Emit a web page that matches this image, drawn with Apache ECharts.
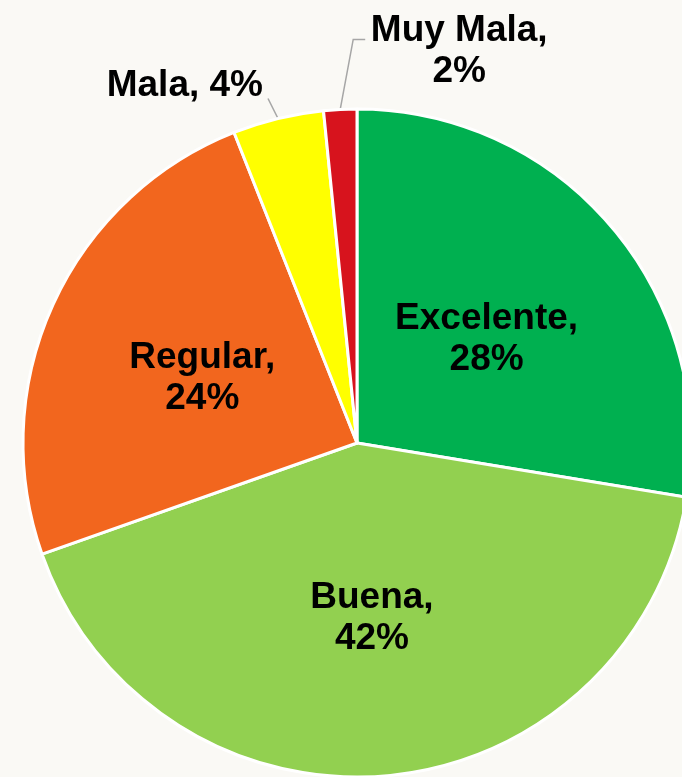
<!DOCTYPE html>
<html>
<head>
<meta charset="utf-8">
<script src="https://cdn.jsdelivr.net/npm/echarts@6/dist/echarts.min.js"></script>
<style>
  html, body { margin: 0; padding: 0; background: #faf9f5; }
  #calidad { width: 682px; height: 777px; }
</style>
</head>
<body>
<div id="calidad"></div>
<script>
  // datos (porcentaje de respuestas)
  const categorias = ['Excelente', 'Buena', 'Regular', 'Mala', 'Muy Mala'];
  const valores = [27.6, 42.0, 24.4, 4.4, 1.6];
  const colores = ['#00b050', '#92d050', '#f2661e', '#ffff00', '#d7131d'];

  let myPie = echarts.init(document.getElementById('calidad'));

  const datos = categorias.map((nombre, i) => {
    let item = { name: nombre, value: valores[i], itemStyle: { color: colores[i] } };
    if (nombre === 'Mala') {
      item.label = { position: 'outside', formatter: '{b}, {d}%' };
      item.labelLine = { show: true, length: 22, length2: 2 };
    }
    if (nombre === 'Muy Mala') {
      item.label = { position: 'outside' };
      item.labelLine = { show: true, length: 20, length2: 2 };
    }
    return item;
  });

  myPie.setOption({
    backgroundColor: '#faf9f5',
    animation: false,
    series: [
      {
        type: 'pie',
        center: [357, 443],
        radius: 334,
        startAngle: 90,
        clockwise: true,
        percentPrecision: 0,
        avoidLabelOverlap: false,
        itemStyle: {
          borderColor: '#ffffff',
          borderWidth: 3
        },
        label: {
          position: 'inside',
          formatter: '{b},\n{d}%',
          color: '#000',
          fontFamily: 'Liberation Sans, Arial, sans-serif',
          fontWeight: 'bold',
          fontSize: 37,
          lineHeight: 41
        },
        labelLine: {
          lineStyle: { color: '#a6a6a6', width: 1.5 }
        },
        labelLayout: function (params) {
          const nombre = categorias[params.dataIndex];
          const p0 = params.labelLinePoints ? params.labelLinePoints[0] : null;
          // "Muy Mala" va a la derecha, con guia casi vertical
          if (nombre === 'Muy Mala' && p0) {
            return {
              x: p0[0] + 119,
              y: p0[1] - 58,
              align: 'center',
              verticalAlign: 'middle',
              labelLinePoints: [
                p0,
                [p0[0] + 13, p0[1] - 70],
                [p0[0] + 25, p0[1] - 70]
              ]
            };
          }
          if (nombre === 'Mala' && p0) {
            return {
              x: p0[0] - 15,
              y: p0[1] - 33,
              align: 'right',
              verticalAlign: 'middle',
              labelLinePoints: [
                p0,
                [p0[0] - 10, p0[1] - 20],
                [p0[0] - 10, p0[1] - 20]
              ]
            };
          }
          return { dy: 6 };
        },
        data: datos
      }
    ]
  });
</script>
</body>
</html>
